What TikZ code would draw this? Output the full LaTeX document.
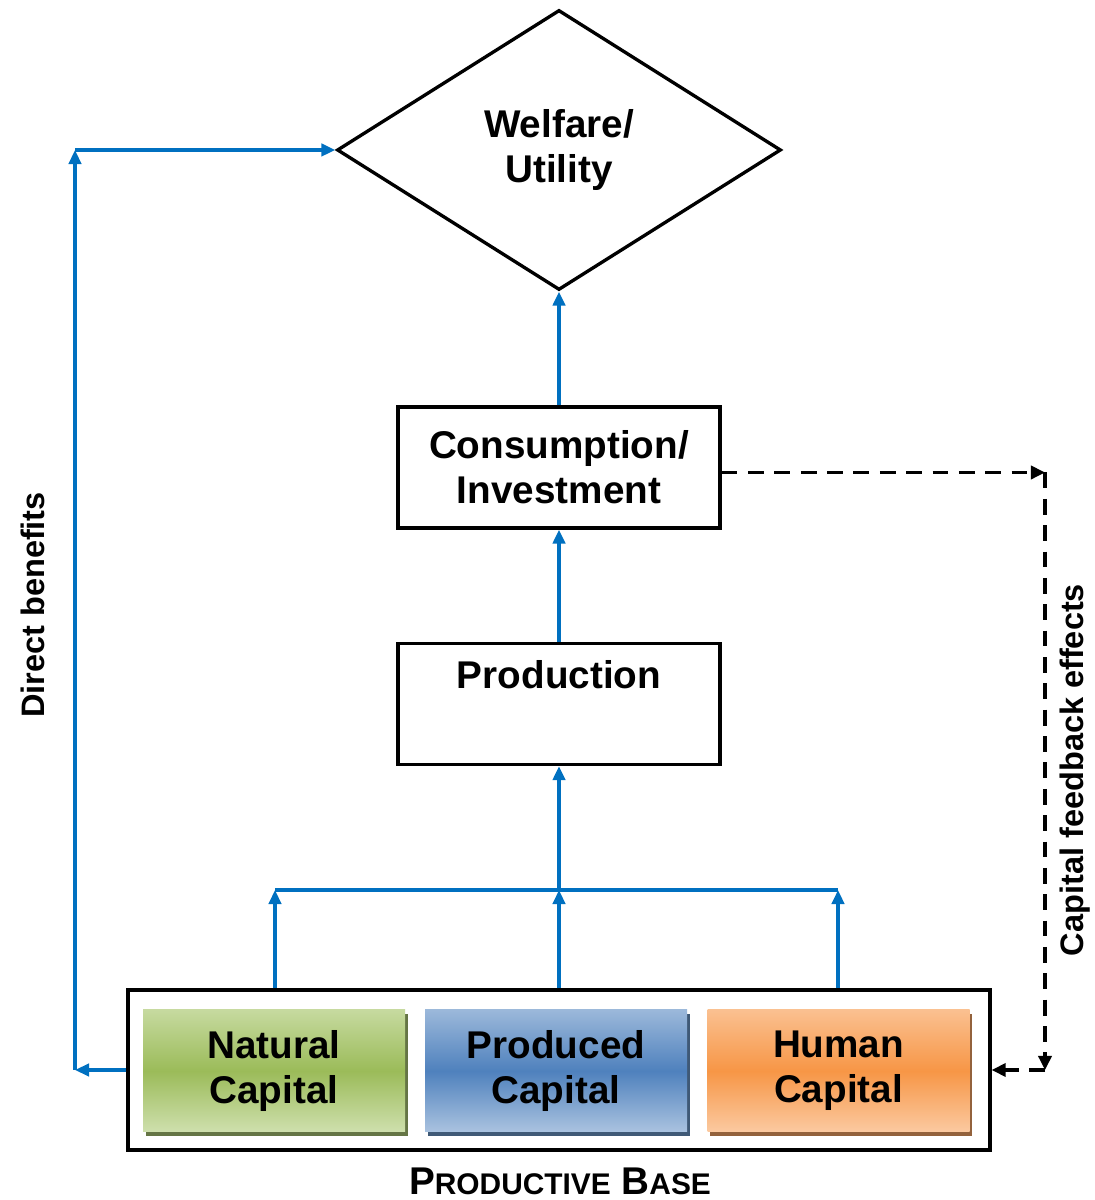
\documentclass[tikz,border=0pt]{standalone}
\usepackage{fontspec}
\setmainfont{Liberation Sans}
\usetikzlibrary{arrows.meta, positioning, shapes.geometric, shadows}
\definecolor{flow}{HTML}{0070C0}
\definecolor{natA}{HTML}{C6DA9F}
\definecolor{natB}{HTML}{9BBB59}
\definecolor{proA}{HTML}{9BB8DA}
\definecolor{proB}{HTML}{4F81BD}
\definecolor{humA}{HTML}{FAC090}
\definecolor{humB}{HTML}{F79646}

\begin{document}
\begin{tikzpicture}[
    every node/.style={font=\bfseries\fontsize{22}{25.5}\selectfont, align=center},
    box/.style={rectangle, draw=black, line width=1.9pt, fill=white,
                minimum width=6.44cm, minimum height=2.42cm, inner sep=0pt},
    capbox/.style={rectangle, draw=none, minimum width=5.24cm, minimum height=2.44cm,
                inner sep=0pt},
    side/.style={font=\bfseries\fontsize{18.5}{20}\selectfont, rotate=90},
    arr/.style={-{Triangle[length=8pt, width=7pt]}, line width=2pt, color=flow},
    back/.style={-{Triangle[length=8pt, width=7.5pt]}, line width=1.8pt, black,
                 dash pattern=on 9pt off 6pt},
]
\useasboundingbox (0,0) rectangle (21.88,24);
\newcommand\smc[2]{{\fontsize{22}{26}\selectfont #1}{\fontsize{17}{20}\selectfont #2}}

% ---------------- top of the chain
\node[diamond, draw=black, line width=1.9pt, minimum width=8.88cm, minimum height=5.6cm,
      inner sep=0pt] (wel) at (11.18, 21.0) {Welfare/\\Utility};
\node[box] (cons) at (11.18, 14.65) {Consumption/\\Investment};
\node[box] (prod) at (11.18, 9.92) {Production\\\strut};

% ---------------- productive base
\node[box, minimum width=17.24cm, minimum height=3.2cm] (base) at (11.18, 2.6) {};
\node[capbox, top color=natA, bottom color=natA!85!white, middle color=natB,
      drop shadow={shadow xshift=1.5pt, shadow yshift=-2pt, fill=natB!55!black, opacity=0.9}]
      (nat) at (5.48, 2.58) {Natural\\Capital};
\node[capbox, top color=proA, bottom color=proA!85!white, middle color=proB,
      drop shadow={shadow xshift=1.5pt, shadow yshift=-2pt, fill=proB!55!black, opacity=0.9}]
      (made) at (11.12, 2.58) {Produced\\Capital};
\node[capbox, top color=humA, bottom color=humA!85!white, middle color=humB,
      drop shadow={shadow xshift=1.5pt, shadow yshift=-2pt, fill=humB!55!black, opacity=0.9}]
      (hum) at (16.77, 2.58) {Human\\Capital};
\node (pb) at (11.2, 0.38) {\smc{P}{RODUCTIVE} \smc{B}{ASE}};

% ---------------- upward flows
\coordinate (rn) at (5.5, 6.2);
\coordinate (rm) at (11.18, 6.2);
\coordinate (rh) at (16.76, 6.2);
\draw[arr] (rn |- base.north) -- (rn);
\draw[arr] (rm |- base.north) -- (rm);
\draw[arr] (rh |- base.north) -- (rh);
\draw[flow, line width=2pt] (rn) -- (rh);
\draw[arr] (rm) -- (prod.south);
\draw[arr] (prod.north) -- (cons.south);
\draw[arr] (cons.north) -- (wel.south);

% ---------------- direct benefits
\coordinate (dl) at (1.5, 2.6);
\coordinate (dt) at (1.5, 21.0);
\draw[arr] (base.west) -- (dl);
\draw[arr] (dl) -- (dt);
\draw[arr] (dt) -- (wel.west);
\node[side] (dben) at (0.66, 11.9) {Direct benefits};

% ---------------- feedback
\coordinate (ft) at (20.9, 14.55);
\coordinate (fb) at (20.9, 2.6);
\draw[back] (cons.east |- ft) -- (ft);
\draw[back] (ft) -- (fb);
\draw[back] (fb) -- (base.east);
\node[side] (fback) at (21.5, 8.6) {Capital feedback effects};
\end{tikzpicture}
\end{document}
